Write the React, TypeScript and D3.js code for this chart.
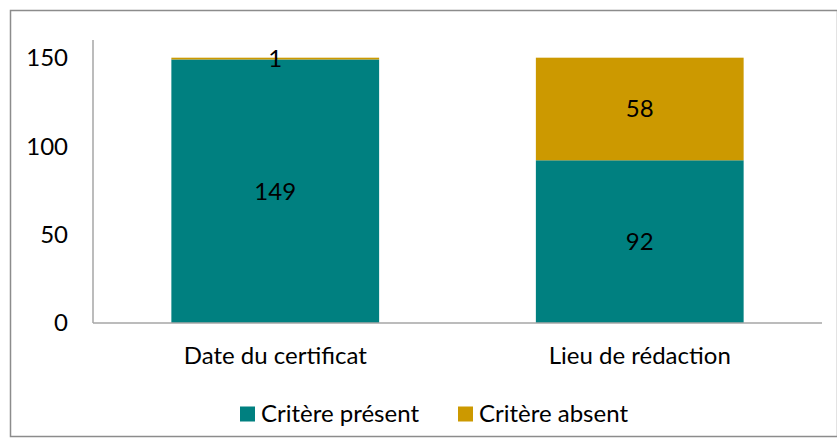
import { useRef, useEffect } from 'react'
import * as d3 from 'd3'

const categories = ['Date du certificat', 'Lieu de rédaction']
const presentValues = [149, 92]
const absentValues = [1, 58]
const seriesNames = ['Critère présent', 'Critère absent']
const seriesColors = ['#008080', '#CC9900']
const yTicks = [0, 50, 100, 150]

const WIDTH = 837
const HEIGHT = 447
const FONT = 'Lato, "Open Sans", sans-serif'
const FONT_SIZE = 24

export default function App() {
  const svgRef = useRef<SVGSVGElement>(null)

  useEffect(() => {
    if (!svgRef.current) return
    const svg = d3.select(svgRef.current)
    svg.selectAll('*').remove()

    const margin = { top: 40, right: 15, bottom: 124, left: 93 }

    // outer chart border
    svg.append('rect')
      .attr('x', 10.5)
      .attr('y', 10.5)
      .attr('width', WIDTH - 10)
      .attr('height', HEIGHT - 21)
      .attr('fill', 'white')
      .attr('stroke', '#8c8c8c')
      .attr('stroke-width', 1.5)

    const x = d3.scaleBand<string>()
      .domain(categories)
      .range([margin.left, WIDTH - margin.right])
      .paddingInner(0.43)
      .paddingOuter(0.215)

    const y = d3.scaleLinear()
      .domain([0, 160])
      .range([HEIGHT - margin.bottom, margin.top])

    const rows = categories.map((c, i) => ({ cat: c, values: [presentValues[i], absentValues[i]] }))
    const stack = d3.stack<{ cat: string; values: number[] }>()
      .keys(['0', '1'])
      .value((d, k) => d.values[+k])
    const layers = stack(rows)

    // bars
    layers.forEach((layer, li) => {
      svg.append('g')
        .selectAll('rect')
        .data(layer)
        .enter()
        .append('rect')
        .attr('x', d => x(d.data.cat)!)
        .attr('width', x.bandwidth())
        .attr('y', d => y(d[1]))
        .attr('height', d => y(d[0]) - y(d[1]))
        .attr('fill', seriesColors[li])
    })

    // data labels
    layers.forEach(layer => {
      svg.append('g')
        .selectAll('text')
        .data(layer)
        .enter()
        .append('text')
        .attr('x', d => x(d.data.cat)! + x.bandwidth() / 2)
        .attr('y', d => y((d[0] + d[1]) / 2))
        .attr('dy', '0.35em')
        .attr('text-anchor', 'middle')
        .attr('font-family', FONT)
        .attr('font-size', FONT_SIZE)
        .attr('fill', '#000')
        .text(d => String(d[1] - d[0]))
    })

    // axes lines
    svg.append('line')
      .attr('x1', margin.left).attr('x2', margin.left)
      .attr('y1', y(160)).attr('y2', y(0))
      .attr('stroke', '#a6a6a6').attr('stroke-width', 1.5)

    svg.append('line')
      .attr('x1', margin.left).attr('x2', WIDTH - margin.right)
      .attr('y1', y(0)).attr('y2', y(0))
      .attr('stroke', '#a6a6a6').attr('stroke-width', 1.5)

    // y tick labels
    svg.append('g')
      .selectAll('text')
      .data(yTicks)
      .enter()
      .append('text')
      .attr('x', 68)
      .attr('y', d => y(d))
      .attr('dy', '0.35em')
      .attr('text-anchor', 'end')
      .attr('font-family', FONT)
      .attr('font-size', FONT_SIZE)
      .attr('fill', '#000')
      .text(d => d)

    // category labels
    svg.append('g')
      .selectAll('text')
      .data(categories)
      .enter()
      .append('text')
      .attr('x', d => x(d)! + x.bandwidth() / 2)
      .attr('y', 356)
      .attr('dy', '0.35em')
      .attr('text-anchor', 'middle')
      .attr('font-family', FONT)
      .attr('font-size', FONT_SIZE)
      .attr('fill', '#000')
      .text(d => d)

    // legend
    const legendX = [240, 458]
    const legend = svg.append('g')
      .selectAll('g')
      .data(seriesNames)
      .enter()
      .append('g')
      .attr('transform', (_, i) => `translate(${legendX[i]},414)`)

    legend.append('rect')
      .attr('x', 0).attr('y', -7.5)
      .attr('width', 15).attr('height', 15)
      .attr('fill', (_, i) => seriesColors[i])

    legend.append('text')
      .attr('x', 21)
      .attr('y', 0)
      .attr('dy', '0.35em')
      .attr('font-family', FONT)
      .attr('font-size', FONT_SIZE)
      .attr('fill', '#000')
      .text(d => d)
  }, [])

  return (
    <svg
      ref={svgRef}
      width={WIDTH}
      height={HEIGHT}
      style={{ position: 'absolute', left: 0, top: 0, display: 'block' }}
    />
  )
}
